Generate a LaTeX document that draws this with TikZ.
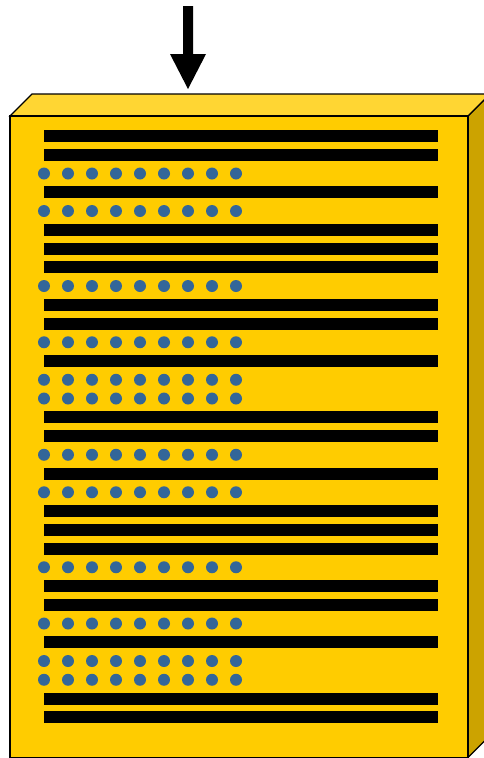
\documentclass[tikz,border=0pt]{standalone}
\definecolor{frontY}{HTML}{FFCC00}
\definecolor{topY}{HTML}{FFD633}
\definecolor{sideY}{HTML}{CCA300}
\definecolor{dotB}{HTML}{336699}
\tikzset{
  face/.style={draw=black, line width=1.2pt, line join=miter},
  barline/.style={fill=black},
  dotmark/.style={fill=dotB},
}
\begin{document}
\begin{tikzpicture}[x=1pt,y=-1pt]
\useasboundingbox (0,0) rectangle (484,758);
\begin{scope}
\clip (0,0) rectangle (484,758);
% right face
\draw[face, fill=sideY] (468,116) -- (490,94) -- (490,735.5) -- (468,757.5) -- cycle;
% top face
\draw[face, fill=topY] (10,116) -- (32,94) -- (490,94) -- (468,116) -- cycle;
% front face
\draw[face, fill=frontY] (10,116) rectangle (468,757.5);
\end{scope}
% rows: 1 = bar, 0 = dots
\foreach \t [count=\i from 0] in {1,1,0,1,0,1,1,1,0,1,1,0,1,0,0,1,1,0,1,0,1,1,1,0,1,1,0,1,0,0,1,1}{
  \pgfmathsetmacro{\yy}{136+18.75*\i}
  \ifnum\t=1
    \fill[barline] (44,\yy-6) rectangle (438,\yy+6);
  \else
    \foreach \k in {0,...,8}{
      \fill[dotmark] (44+24*\k,\yy) circle (6);
    }
  \fi
}
% arrow
\fill[black] (183,6) -- (193,6) -- (193,54) -- (206,54) -- (188,89) -- (170,54) -- (183,54) -- cycle;
\end{tikzpicture}
\end{document}
